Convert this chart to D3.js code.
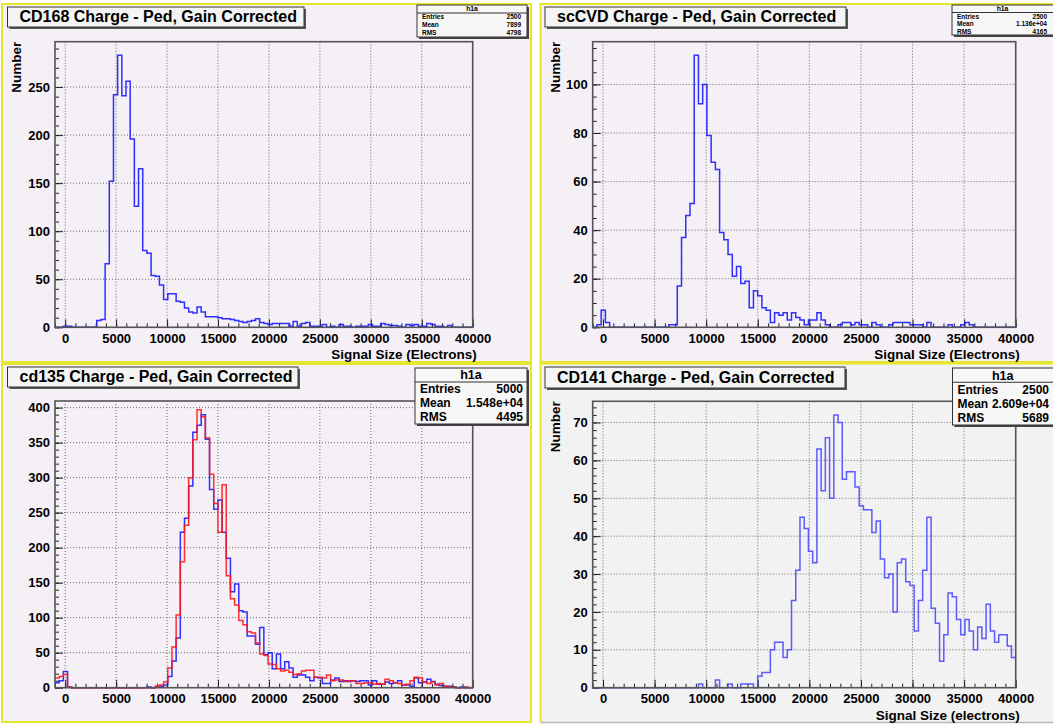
<!DOCTYPE html>
<html>
<head>
<meta charset="utf-8">
<script src="https://cdn.jsdelivr.net/npm/d3@7"></script>
<style>
  html, body { margin: 0; padding: 0; background: #ffffff; }
  svg { display: block; }
  text { font-family: "Liberation Sans", Arial, Helvetica, sans-serif; font-weight: bold; fill: #000; }
</style>
</head>
<body>
<svg id="canvas" width="1053" height="724"></svg>
<script>
// Histogram binning shared by all four pads: 100 bins over [-1000, 40000]
const binLow = -1000;
const binHigh = 40000;
const nBins = 100;

// Axis tick labels
const xTickLabels = [0, 5000, 10000, 15000, 20000, 25000, 30000, 35000, 40000];
const yTicksCD168 = [0, 50, 100, 150, 200, 250];
const yTicksSCCVD = [0, 20, 40, 60, 80, 100];
const yTicksCD135 = [0, 50, 100, 150, 200, 250, 300, 350, 400];
const yTicksCD141 = [0, 10, 20, 30, 40, 50, 60, 70];

// Bin contents
const countsCD168 = [
  0, 0, 1, 1, 0, 0, 0, 0, 0, 0,
  7, 8, 66, 152, 242, 283, 241, 256, 196, 126,
  165, 80, 77, 54, 53, 44, 29, 35, 35, 27,
  26, 20, 16, 15, 21, 16, 11, 11, 11, 10,
  9, 9, 8, 7, 6, 5, 6, 7, 9, 5,
  4, 3, 4, 4, 4, 4, 1, 6, 1, 4,
  5, 1, 1, 1, 3, 0, 1, 0, 3, 1,
  1, 0, 1, 1, 1, 3, 1, 1, 4, 3,
  2, 2, 1, 0, 3, 2, 3, 1, 1, 4,
  3, 1, 1, 0, 2, 0, 0, 0, 0, 0
];
const countsSCCVD = [
  0, 1, 7, 2, 0, 0, 0, 0, 0, 0,
  0, 0, 0, 0, 0, 0, 0, 0, 1, 1,
  17, 37, 46, 51, 112, 92, 100, 79, 68, 65,
  39, 36, 30, 21, 25, 18, 19, 8, 15, 13,
  8, 7, 2, 6, 5, 6, 3, 6, 4, 3,
  1, 3, 3, 6, 3, 1, 0, 0, 1, 2,
  2, 1, 2, 1, 1, 0, 2, 1, 0, 0,
  1, 2, 2, 2, 2, 1, 1, 1, 0, 2,
  0, 0, 0, 0, 1, 0, 0, 1, 2, 1,
  0, 0, 0, 0, 0, 0, 0, 0, 0, 0
];
const countsCD135Blue = [
  7, 10, 23, 1, 0, 0, 0, 0, 0, 0,
  0, 0, 0, 0, 0, 0, 0, 0, 0, 0,
  0, 0, 1, 0, 1, 2, 4, 16, 38, 71,
  222, 242, 288, 365, 375, 390, 355, 283, 255, 268,
  222, 185, 137, 148, 110, 108, 74, 74, 62, 86,
  47, 50, 27, 48, 27, 37, 28, 15, 18, 18,
  15, 10, 15, 14, 6, 6, 11, 14, 9, 10,
  9, 10, 9, 10, 10, 4, 10, 5, 5, 8,
  6, 7, 10, 4, 4, 1, 14, 7, 8, 12,
  9, 5, 3, 2, 2, 1, 0, 1, 0, 0
];
const countsCD135Red = [
  14, 16, 19, 1, 0, 0, 0, 0, 0, 0,
  0, 0, 0, 0, 0, 0, 0, 0, 0, 0,
  0, 0, 0, 0, 2, 4, 8, 28, 58, 104,
  180, 232, 300, 354, 397, 387, 357, 305, 263, 222,
  290, 160, 127, 118, 96, 90, 80, 78, 64, 48,
  46, 34, 33, 27, 24, 25, 22, 19, 20, 24,
  25, 25, 15, 15, 14, 18, 10, 11, 11, 9,
  10, 10, 6, 6, 7, 7, 5, 6, 5, 12,
  10, 7, 6, 4, 5, 10, 15, 14, 8, 6,
  8, 4, 6, 2, 1, 1, 0, 0, 1, 0
];
const countsCD141 = [
  0, 0, 0, 0, 0, 0, 0, 0, 0, 0,
  0, 0, 0, 0, 0, 0, 0, 0, 0, 0,
  0, 0, 0, 0, 0, 1, 0, 0, 0, 2,
  0, 0, 1, 0, 0, 1, 1, 1, 0, 3,
  4, 4, 10, 12, 12, 8, 10, 23, 31, 45,
  42, 36, 33, 63, 52, 66, 50, 72, 70, 55,
  57, 57, 53, 48, 47, 47, 41, 44, 34, 29,
  30, 20, 33, 34, 28, 27, 15, 23, 31, 45,
  21, 17, 7, 14, 25, 24, 18, 14, 18, 15,
  10, 16, 13, 22, 15, 12, 14, 14, 11, 8
];

// Statistics box contents
const statLabels = ["Entries", "Mean", "RMS"];
const statsCD168 = ["2500", "7899", "4798"];
const statsSCCVD = ["2500", "1.136e+04", "4165"];
const statsCD135 = ["5000", "1.548e+04", "4495"];
const statsCD141 = ["2500", "2.609e+04", "5689"];

const titles = [
  "CD168 Charge - Ped, Gain Corrected",
  "scCVD Charge - Ped, Gain Corrected",
  "cd135 Charge - Ped, Gain Corrected",
  "CD141 Charge - Ped, Gain Corrected"
];

const svg = d3.select("#canvas");
const fontStack = '"Liberation Sans", Arial, Helvetica, sans-serif';

// Pad layouts
const pads = [
  {
    pad: [2, 4, 529, 358], bg: "#f5f0f5", borderAll: true,
    frame: [55, 41.7, 472.7, 327.3],
    title: titles[0], titleBox: [7.5, 7, 304, 27],
    yTicks: yTicksCD168, yMinor: 10, yMax: 283 * 1.05,
    series: [{ counts: countsCD168, color: "#1a1aff" }],
    stats: statsCD168, statBox: [417, 5, 527, 37], statSmall: true,
    xTitle: "Signal Size (Electrons)", yTitle: "Number"
  },
  {
    pad: [540.5, 4, 530, 358], bg: "#f5f0f5", borderAll: true,
    frame: [592.7, 41.7, 1015.7, 327.3],
    title: titles[1], titleBox: [545, 7, 846, 27],
    yTicks: yTicksSCCVD, yMinor: 5, yMax: 112 * 1.05,
    series: [{ counts: countsSCCVD, color: "#1a1aff" }],
    stats: statsSCCVD, statBox: [952, 5, 1062, 35], statSmall: true,
    xTitle: "Signal Size (Electrons)", yTitle: "Number"
  },
  {
    pad: [2, 364, 529, 358], bg: "#f5f0f5", borderAll: true,
    frame: [55, 401, 472.7, 687.7],
    title: titles[2], titleBox: [7.5, 367, 298, 387],
    yTicks: yTicksCD135, yMinor: 10, yMax: 390 * 1.05,
    series: [
      { counts: countsCD135Blue, color: "#1a1aff" },
      { counts: countsCD135Red, color: "#ff1a1a" }
    ],
    stats: statsCD135, statBox: [415, 368, 527, 424], statSmall: false,
    xTitle: null, yTitle: null
  },
  {
    pad: [540.5, 363.5, 530, 359], bg: "#f2f2f2", borderAll: false,
    frame: [592.7, 401.3, 1015.7, 687.7],
    title: titles[3], titleBox: [545, 367, 845, 388],
    yTicks: yTicksCD141, yMinor: 2, yMax: 72 * 1.05,
    series: [{ counts: countsCD141, color: "#4a4aff" }],
    stats: statsCD141, statBox: [952.5, 368, 1062, 425], statSmall: false,
    xTitle: "Signal Size (electrons)", yTitle: "Number"
  }
];

pads.forEach(drawPad);

function drawPad(p) {
  const g = svg.append("g");
  const [px, py, pw, ph] = p.pad;
  const yellow = "#e6e62e";
  if (p.borderAll) {
    g.append("rect").attr("x", px).attr("y", py).attr("width", pw).attr("height", ph)
      .attr("fill", p.bg).attr("stroke", yellow).attr("stroke-width", 2);
  } else {
    // yellow on the left and top, plain grey edge at the bottom
    g.append("rect").attr("x", px).attr("y", py).attr("width", pw).attr("height", ph)
      .attr("fill", p.bg);
    g.append("path").attr("d", `M${px},${py + ph}V${py}H${px + pw}`)
      .attr("fill", "none").attr("stroke", yellow).attr("stroke-width", 2);
    g.append("line").attr("x1", px).attr("x2", px + pw).attr("y1", py + ph).attr("y2", py + ph)
      .attr("stroke", "#b8b8b8").attr("stroke-width", 1.5);
  }

  const [fx0, fy0, fx1, fy1] = p.frame;
  const x = d3.scaleLinear().domain([binLow, binHigh]).range([fx0, fx1]);
  const y = d3.scaleLinear().domain([0, p.yMax]).range([fy1, fy0]);

  // Grid (dotted) at major ticks
  const grid = g.append("g").attr("stroke", "#6a6a6a").attr("stroke-width", 1)
    .attr("stroke-dasharray", "1,2");
  xTickLabels.forEach(v => {
    grid.append("line").attr("x1", x(v)).attr("x2", x(v)).attr("y1", fy0).attr("y2", fy1);
  });
  p.yTicks.forEach(v => {
    if (v === 0) return;
    grid.append("line").attr("x1", fx0).attr("x2", fx1).attr("y1", y(v)).attr("y2", y(v));
  });

  // Minor ticks (inside the frame)
  const xMinor = d3.range(binLow, binHigh + 1, 1000);
  g.append("g").attr("transform", `translate(0,${fy1})`)
    .call(d3.axisBottom(x).tickValues(xMinor).tickSize(-4).tickFormat(""))
    .call(a => a.select(".domain").remove())
    .selectAll("line").attr("stroke", "#222").attr("stroke-width", 1);
  const yMinorVals = d3.range(0, p.yMax, p.yMinor);
  g.append("g").attr("transform", `translate(${fx0},0)`)
    .call(d3.axisLeft(y).tickValues(yMinorVals).tickSize(-4).tickFormat(""))
    .call(a => a.select(".domain").remove())
    .selectAll("line").attr("stroke", "#222").attr("stroke-width", 1);

  // Major ticks with labels
  const xAx = g.append("g").attr("transform", `translate(0,${fy1})`)
    .call(d3.axisBottom(x).tickValues(xTickLabels).tickSize(-8).tickPadding(6).tickFormat(d3.format("d")));
  xAx.select(".domain").remove();
  xAx.selectAll("line").attr("stroke", "#222").attr("stroke-width", 1);
  xAx.selectAll("text").attr("font-family", fontStack).attr("font-size", 13)
    .attr("font-weight", "bold").attr("fill", "#000");

  const yAx = g.append("g").attr("transform", `translate(${fx0},0)`)
    .call(d3.axisLeft(y).tickValues(p.yTicks).tickSize(-8).tickPadding(5).tickFormat(d3.format("d")));
  yAx.select(".domain").remove();
  yAx.selectAll("line").attr("stroke", "#222").attr("stroke-width", 1);
  yAx.selectAll("text").attr("font-family", fontStack).attr("font-size", 13)
    .attr("font-weight", "bold").attr("fill", "#000");

  // Histogram step lines
  const w = (binHigh - binLow) / nBins;
  p.series.forEach(s => {
    const pts = [];
    s.counts.forEach((c, i) => {
      const lo = binLow + i * w, hi = lo + w;
      pts.push([x(lo), y(c)], [x(hi), y(c)]);
    });
    g.append("path")
      .attr("d", d3.line()(pts))
      .attr("fill", "none").attr("stroke", s.color).attr("stroke-width", 1.5)
      .attr("stroke-linejoin", "miter").attr("opacity", 0.9);
  });

  // Frame
  g.append("rect").attr("x", fx0).attr("y", fy0).attr("width", fx1 - fx0).attr("height", fy1 - fy0)
    .attr("fill", "none").attr("stroke", "#555").attr("stroke-width", 1.6);

  // Axis titles
  if (p.xTitle) {
    g.append("text").attr("x", fx1 + 4).attr("y", fy1 + 32).attr("text-anchor", "end")
      .attr("font-size", 13.5).text(p.xTitle);
  }
  if (p.yTitle) {
    g.append("text").attr("transform", `translate(${px + 19},${fy0}) rotate(-90)`)
      .attr("text-anchor", "end").attr("font-size", 13.5).text(p.yTitle);
  }

  // Title box with shadow
  const [tx0, ty0, tx1, ty1] = p.titleBox;
  g.append("rect").attr("x", tx0 + 2).attr("y", ty0 + 2).attr("width", tx1 - tx0).attr("height", ty1 - ty0)
    .attr("fill", "#555");
  g.append("rect").attr("x", tx0).attr("y", ty0).attr("width", tx1 - tx0).attr("height", ty1 - ty0)
    .attr("fill", "#f4f4f4").attr("stroke", "#333").attr("stroke-width", 1);
  g.append("text").attr("x", tx0 + 12).attr("y", ty1 - 5).attr("font-size", 16).text(p.title);

  // Statistics box with shadow
  const [sx0, sy0, sx1, sy1] = p.statBox;
  g.append("rect").attr("x", sx0 + 2).attr("y", sy0 + 2).attr("width", sx1 - sx0).attr("height", sy1 - sy0)
    .attr("fill", "#444");
  g.append("rect").attr("x", sx0).attr("y", sy0).attr("width", sx1 - sx0).attr("height", sy1 - sy0)
    .attr("fill", "#f7f7f7").attr("stroke", "#333").attr("stroke-width", 1);
  const rowH = (sy1 - sy0) / 4;
  const fs = p.statSmall ? 6.5 : 12;
  g.append("line").attr("x1", sx0).attr("x2", sx1).attr("y1", sy0 + rowH).attr("y2", sy0 + rowH)
    .attr("stroke", "#333").attr("stroke-width", 1);
  g.append("text").attr("x", (sx0 + Math.min(sx1, 1053)) / 2).attr("y", sy0 + rowH * 0.5)
    .attr("dy", "0.35em").attr("text-anchor", "middle").attr("font-size", fs * 1.05).text("h1a");
  const valRight = Math.min(sx1, 1053) - (p.statSmall ? 6 : 4);
  statLabels.forEach((lab, i) => {
    const cy = sy0 + rowH * (i + 1.5);
    g.append("text").attr("x", sx0 + 5).attr("y", cy).attr("dy", "0.35em")
      .attr("font-size", fs).text(lab);
    g.append("text").attr("x", valRight).attr("y", cy).attr("dy", "0.35em")
      .attr("text-anchor", "end").attr("font-size", fs).text(p.stats[i]);
  });
}
</script>
</body>
</html>
